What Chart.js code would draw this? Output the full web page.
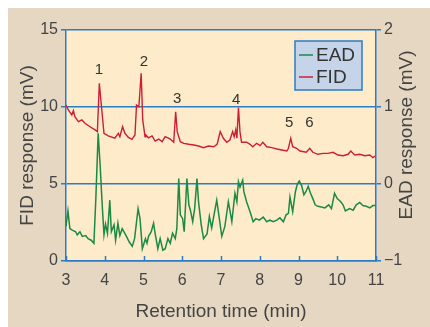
<!DOCTYPE html>
<html>
<head>
<meta charset="utf-8">
<script src="https://cdn.jsdelivr.net/npm/chart.js@4/dist/chart.umd.min.js"></script>
<style>
  html, body { margin: 0; padding: 0; background: #ffffff; }
  #c { display: block; }
</style>
</head>
<body>
<canvas id="c" width="430" height="327"></canvas>
<script>
// ---- data ----
const fidTime = [3.00,3.06,3.15,3.19,3.23,3.32,3.41,3.49,3.62,3.75,3.81,3.86,3.92,3.98,4.09,4.26,4.35,4.39,4.46,4.52,4.61,4.70,4.78,4.82,4.88,4.94,4.98,5.04,5.06,5.13,5.22,5.30,5.39,5.48,5.56,5.63,5.69,5.78,5.83,5.87,5.95,6.04,6.17,6.30,6.42,6.55,6.68,6.81,6.90,6.98,7.06,7.15,7.23,7.30,7.34,7.38,7.41,7.45,7.49,7.53,7.66,7.75,7.82,7.92,8.01,8.08,8.18,8.31,8.44,8.57,8.70,8.74,8.80,8.85,8.95,9.04,9.20,9.29,9.37,9.50,9.63,9.76,9.89,10.02,10.15,10.28,10.35,10.45,10.58,10.71,10.84,10.92,10.98];
const fidValue = [10.13,9.81,9.48,9.76,9.37,9.05,9.16,8.94,8.72,8.51,8.40,11.54,9.92,8.29,8.12,7.97,8.29,8.07,8.72,8.29,8.03,7.90,8.18,10.13,10.02,12.19,9.16,8.07,8.18,8.00,8.12,7.79,7.92,7.75,8.07,8.00,7.92,7.71,9.69,8.40,7.75,7.64,7.58,7.53,7.47,7.36,7.47,7.42,7.58,8.40,7.97,7.71,7.86,8.40,8.07,8.51,7.97,9.95,8.40,7.71,7.71,7.58,7.42,7.64,7.49,7.71,7.42,7.36,7.27,7.21,7.14,7.32,7.97,7.42,7.32,7.14,7.06,7.32,7.06,6.93,6.99,6.99,7.06,6.88,6.84,6.93,7.14,6.88,6.93,6.84,6.88,6.71,6.82];
const eadTime = [3.00,3.05,3.10,3.16,3.25,3.29,3.36,3.42,3.51,3.57,3.65,3.72,3.77,3.83,3.88,3.94,3.98,4.02,4.07,4.13,4.17,4.24,4.28,4.34,4.39,4.45,4.54,4.63,4.71,4.77,4.86,4.91,4.97,5.05,5.09,5.13,5.20,5.26,5.30,5.37,5.43,5.50,5.56,5.63,5.69,5.75,5.82,5.86,5.91,5.95,6.01,6.05,6.12,6.17,6.21,6.27,6.32,6.38,6.42,6.49,6.55,6.64,6.70,6.76,6.82,6.89,6.96,7.02,7.10,7.19,7.28,7.36,7.41,7.45,7.49,7.56,7.59,7.66,7.75,7.83,7.90,7.99,8.09,8.18,8.26,8.35,8.44,8.52,8.61,8.68,8.74,8.78,8.85,8.92,8.97,9.02,9.08,9.14,9.19,9.25,9.31,9.37,9.43,9.50,9.59,9.68,9.78,9.85,9.93,10.00,10.09,10.15,10.21,10.32,10.41,10.49,10.58,10.66,10.75,10.84,10.92,10.98];
const eadValue = [-0.55,-0.35,-0.58,-0.60,-0.62,-0.66,-0.62,-0.68,-0.67,-0.71,-0.73,-0.77,-0.19,0.66,0.25,-0.32,-0.66,-0.52,-0.64,-0.21,-0.62,-0.53,-0.73,-0.51,-0.67,-0.58,-0.66,-0.75,-0.81,-0.71,-0.32,-0.45,-0.84,-0.71,-0.77,-0.68,-0.62,-0.51,-0.64,-0.84,-0.71,-0.86,-0.84,-0.71,-0.77,-0.64,-0.71,-0.58,0.07,-0.40,-0.45,-0.62,0.07,-0.27,-0.34,-0.49,-0.32,0.07,-0.23,-0.53,-0.71,-0.65,-0.42,-0.57,-0.40,-0.21,-0.46,-0.68,-0.55,-0.23,-0.49,-0.12,-0.23,0.03,-0.04,0.05,-0.10,-0.23,-0.36,-0.49,-0.45,-0.47,-0.43,-0.49,-0.47,-0.49,-0.47,-0.44,-0.49,-0.40,-0.38,-0.17,-0.36,-0.10,0.00,0.04,-0.02,-0.14,-0.10,-0.03,-0.12,-0.19,-0.27,-0.29,-0.30,-0.31,-0.27,-0.32,-0.12,-0.19,-0.23,-0.27,-0.35,-0.32,-0.34,-0.27,-0.24,-0.28,-0.29,-0.31,-0.28,-0.28];
const xTicks = [3,4,5,6,7,8,9,10,11];
const fidTicks = [0,5,10,15];
const eadTicks = [-1,0,1,2];
const peakLabels = ['1','2','3','4','5','6'];
const peakTimes = [3.85,5.01,5.87,7.39,8.76,9.28];
const peakLevels = [12.4,12.9,10.5,10.45,8.98,8.98];
const seriesNames = ['EAD','FID'];
const eadAxisTitle = 'EAD response (mV)';

// ---- styles ----
const BLUE = '#2a7cc4';
const RED = '#cc1f36';
const GREEN = '#1b8a45';
const TXT = '#444444';
const FONT = "'Liberation Sans', Arial, sans-serif";

const bgPlugin = {
  id: 'bg',
  beforeDraw(chart) {
    const ctx = chart.ctx, a = chart.chartArea;
    ctx.save();
    ctx.fillStyle = '#e6d7c2';
    ctx.fillRect(8, 8, chart.width - 8, chart.height - 8);
    ctx.fillStyle = '#feebc9';
    ctx.fillRect(a.left, a.top, a.right - a.left, a.bottom - a.top);
    ctx.restore();
  }
};

const decoPlugin = {
  id: 'deco',
  afterDatasetsDraw(chart) {
    const ctx = chart.ctx, a = chart.chartArea;
    const xs = chart.scales.x, ys = chart.scales.y;
    ctx.save();
    // inward x ticks
    ctx.strokeStyle = BLUE; ctx.lineWidth = 1.5;
    xTicks.forEach(t => {
      const px = Math.round(xs.getPixelForValue(t)) + 0.5;
      ctx.beginPath(); ctx.moveTo(px, a.bottom); ctx.lineTo(px, a.bottom - 5); ctx.stroke();
    });
    // peak numbers
    ctx.fillStyle = '#333333';
    ctx.font = '15px ' + FONT;
    ctx.textAlign = 'center'; ctx.textBaseline = 'middle';
    peakLabels.forEach((s, i) => {
      ctx.fillText(s, xs.getPixelForValue(peakTimes[i]), ys.getPixelForValue(peakLevels[i]));
    });
    // legend box
    const lx = a.right - 81, ly = a.top + 11, lw = 67, lh = 49;
    ctx.fillStyle = '#c6d4ea';
    ctx.fillRect(lx, ly, lw, lh);
    ctx.strokeStyle = BLUE; ctx.lineWidth = 1.5;
    ctx.strokeRect(lx, ly, lw, lh);
    const cols = [GREEN, RED];
    seriesNames.forEach((n, i) => {
      const yy = ly + 14 + i * 22;
      ctx.strokeStyle = cols[i]; ctx.lineWidth = 1.5;
      ctx.beginPath(); ctx.moveTo(lx + 4, yy); ctx.lineTo(lx + 18, yy); ctx.stroke();
      ctx.fillStyle = '#333333';
      ctx.font = '19px ' + FONT;
      ctx.textAlign = 'left'; ctx.textBaseline = 'middle';
      ctx.fillText(n, lx + 21, yy + 1);
    });
    // right axis title, reading bottom-to-top like the left one
    ctx.translate(a.right + 31, a.top + 105);
    ctx.rotate(-Math.PI / 2);
    ctx.fillStyle = TXT;
    ctx.font = '19px ' + FONT;
    ctx.textAlign = 'center'; ctx.textBaseline = 'middle';
    ctx.fillText(eadAxisTitle, 0, 0);
    ctx.restore();
  }
};

const toPts = (xs, ys) => xs.map((x, i) => ({ x: x, y: ys[i] }));

new Chart(document.getElementById('c'), {
  type: 'line',
  data: {
    datasets: [
      { label: seriesNames[0], data: toPts(eadTime, eadValue), yAxisID: 'y1',
        borderColor: GREEN, borderWidth: 1.5, pointRadius: 0, tension: 0, fill: false },
      { label: seriesNames[1], data: toPts(fidTime, fidValue), yAxisID: 'y',
        borderColor: RED, borderWidth: 1.4, pointRadius: 0, tension: 0, fill: false }
    ]
  },
  options: {
    responsive: false,
    animation: false,
    devicePixelRatio: 1,
    layout: { padding: { top: 30, left: 0, right: 0, bottom: 0 } },
    plugins: { legend: { display: false }, tooltip: { enabled: false } },
    scales: {
      x: {
        type: 'linear', min: 3, max: 11,
        afterBuildTicks: s => { s.ticks = xTicks.map(v => ({ value: v })); },
        afterFit: s => { s.height = 66; },
        grid: { display: false },
        border: { display: true, color: BLUE, width: 1.5 },
        ticks: { color: TXT, font: { family: FONT, size: 16 }, padding: 2, maxRotation: 0 },
        title: { display: true, text: 'Retention time (min)', color: TXT,
                 font: { family: FONT, size: 19 }, padding: { top: 10 } }
      },
      y: {
        position: 'left', min: 0, max: 15,
        afterBuildTicks: s => { s.ticks = fidTicks.map(v => ({ value: v })); },
        afterFit: s => { s.width = 66; },
        grid: { color: BLUE, lineWidth: 1.5, tickLength: 5, drawOnChartArea: true },
        border: { display: true, color: BLUE, width: 1.5 },
        ticks: { color: TXT, font: { family: FONT, size: 16 }, padding: 3 },
        title: { display: true, text: 'FID response (mV)', color: TXT,
                 font: { family: FONT, size: 19 }, padding: { top: 16 } }
      },
      y1: {
        position: 'right', min: -1, max: 2,
        afterBuildTicks: s => { s.ticks = eadTicks.map(v => ({ value: v })); },
        afterFit: s => { s.width = 54; },
        grid: { color: BLUE, lineWidth: 1.5, tickLength: 5, drawOnChartArea: false },
        border: { display: true, color: BLUE, width: 1.5 },
        ticks: { color: TXT, font: { family: FONT, size: 16 }, padding: 3,
                 callback: v => (v < 0 ? '\u2212' + Math.abs(v) : String(v)) },
        title: { display: false }
      }
    }
  },
  plugins: [bgPlugin, decoPlugin]
});
</script>
</body>
</html>
